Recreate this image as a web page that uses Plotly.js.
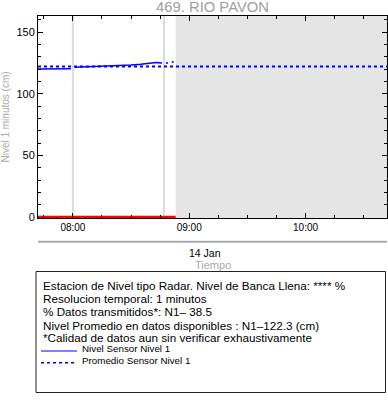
<!DOCTYPE html>
<html><head><meta charset="utf-8">
<script src="https://cdn.plot.ly/plotly-3.0.1.min.js"></script>
<style>html,body{margin:0;padding:0;background:#fff}#c{width:388px;height:404px}</style>
</head><body><div id="c"></div>
<script>
// ---- data ----
const day = '2024-01-14 ';
const levelTimes = ['07:42','07:46','07:50','07:54','07:58','07:59','08:00',
  '08:01','08:05','08:10','08:15','08:20','08:25','08:30','08:35','08:40','08:43','08:46','08:47',
  '08:48','08:49','08:50','08:51','08:52'];
const levelValues = [120.2,120.2,120.3,120.3,120.4,120.4,null,
  121.6,121.8,122.0,122.3,122.6,123.0,123.5,124.1,124.8,125.4,125.1,null,
  124.8,125.3,null,125.6,126.0];
const flagTimes = ['07:42','08:53'];
const flagValues = [0,0];
const averageLevel = 122.3;
const rangeTimes = ['07:42','10:42'];
const noDataStart = '08:53';
const gapTimes = ['08:00','08:47'];
const dateLabel = '14 Jan';
const dateLabelAt = '09:00';
const titleText = '469. RIO PAVON';
const yTitle = 'Nivel 1 minutos (cm)';
const xTitle = 'Tiempo';
const infoLines = [
  'Estacion de Nivel tipo Radar. Nivel de Banca Llena: **** %',
  'Resolucion temporal: 1 minutos',
  '% Datos transmitidos*: N1\u2013 38.5',
  'Nivel Promedio en datos disponibles : N1\u2013122.3 (cm)',
  '*Calidad de datos aun sin verificar exhaustivamente'
];
const legendLabels = ['Nivel Sensor Nivel 1','Promedio Sensor Nivel 1'];

// ---- layout helpers (pixel -> paper) ----
const W = 388, H = 404, L = 38, R = 1, T = 16, B = 186;
const pw = W - L - R, ph = H - T - B;
const px = x => (x - L) / pw;
const py = y => (H - B - y) / ph;
const t = s => day + s;

const font = 'Liberation Sans, Arial, Helvetica, sans-serif';

const traces = [
  {x: levelTimes.map(t), y: levelValues, type: 'scatter', mode: 'lines',
   line: {color: '#0000ff', width: 1.5}, connectgaps: false, name: legendLabels[0], showlegend: false},
  {x: rangeTimes.map(t), y: rangeTimes.map(() => averageLevel), type: 'scatter', mode: 'lines',
   line: {color: '#0000ff', width: 2, dash: 'dot'}, name: legendLabels[1], showlegend: false},
  {x: flagTimes.map(t), y: flagValues, type: 'scatter', mode: 'lines',
   line: {color: '#ff0000', width: 2.5}, showlegend: false, hoverinfo: 'skip'}
];

const shapes = [
  {type: 'rect', xref: 'x', yref: 'paper', x0: t(noDataStart), x1: t(rangeTimes[1]), y0: 0, y1: 1,
   fillcolor: '#e5e5e5', line: {width: 0}, layer: 'below'},
  ...gapTimes.map(g => ({type: 'line', xref: 'x', yref: 'paper', x0: t(g), x1: t(g), y0: 0, y1: 1,
   line: {color: '#dcdcdc', width: 2}, layer: 'below'})),
  {type: 'line', xref: 'paper', yref: 'paper', x0: 0, x1: 1, y0: py(241.7), y1: py(241.7),
   line: {color: '#aaaaaa', width: 2}},
  {type: 'rect', xref: 'paper', yref: 'paper', x0: px(36), x1: px(385.5), y0: py(271.5), y1: py(392.5),
   line: {color: '#222', width: 1}, fillcolor: 'rgba(0,0,0,0)'},
  {type: 'line', xref: 'paper', yref: 'paper', x0: px(41), x1: px(77), y0: py(351), y1: py(351),
   line: {color: '#0000ff', width: 1}},
  {type: 'line', xref: 'paper', yref: 'paper', x0: px(41), x1: px(77), y0: py(362.7), y1: py(362.7),
   line: {color: '#0000ff', width: 1.5, dash: 'dot'}}
];

const lineYs = [285.7, 298.5, 311.7, 325, 337.7];
const annotations = [
  ...infoLines.map((s, i) => ({text: s, xref: 'paper', yref: 'paper', x: px(41), y: py(lineYs[i]),
    xanchor: 'left', yanchor: 'middle', showarrow: false, font: {family: font, size: 11.7, color: '#000'}})),
  ...legendLabels.map((s, i) => ({text: s, xref: 'paper', yref: 'paper', x: px(80), y: py([348.3, 360][i]),
    xanchor: 'left', yanchor: 'middle', showarrow: false, font: {family: font, size: 9.8, color: '#000'}})),
  {text: dateLabel, xref: 'x', yref: 'paper', x: t(dateLabelAt), y: py(252.7), xanchor: 'left', yanchor: 'middle',
   showarrow: false, xshift: -2, font: {family: font, size: 10.5, color: '#000'}},
  {text: xTitle, xref: 'paper', yref: 'paper', x: 0.5, y: py(264.5), xanchor: 'center', yanchor: 'middle',
   showarrow: false, font: {family: font, size: 11, color: '#aaaaaa'}}
];

const layout = {
  width: W, height: H,
  margin: {l: L, r: R, t: T, b: B, pad: 0},
  paper_bgcolor: '#fff', plot_bgcolor: '#fff',
  font: {family: font, size: 11, color: '#000'},
  title: {text: titleText, x: 0.5, xref: 'paper', xanchor: 'center', y: 1 - 7/H, yanchor: 'middle',
          font: {family: font, size: 14.8, color: '#a0a0a0'}},
  showlegend: false,
  xaxis: {type: 'date', range: rangeTimes.map(t), tickformat: '%H:%M', dtick: 3600000,
          tick0: t('08:00'), ticks: 'inside', ticklen: 5, tickcolor: '#000', showgrid: false,
          zeroline: false, showline: true, linecolor: '#000', linewidth: 1, mirror: 'allticks',
          tickfont: {family: font, size: 10, color: '#000'},
          minor: {dtick: 900000, tick0: t('08:00'), ticks: 'inside', ticklen: 3, tickcolor: '#000', showgrid: false}},
  yaxis: {range: [-0.8, 163.2], tickvals: [0, 50, 100, 150], ticks: 'inside', ticklen: 5, tickcolor: '#000',
          showgrid: false, zeroline: false, showline: true, linecolor: '#000', linewidth: 1, mirror: 'allticks',
          tickfont: {family: font, size: 11, color: '#000'},
          title: {text: yTitle, font: {family: font, size: 10, color: '#aaaaaa'}, standoff: 6},
          minor: {dtick: 10, ticks: 'inside', ticklen: 3, tickcolor: '#000', showgrid: false}},
  shapes: shapes,
  annotations: annotations
};

Plotly.newPlot('c', traces, layout, {staticPlot: true, displayModeBar: false});
</script>
</body></html>
